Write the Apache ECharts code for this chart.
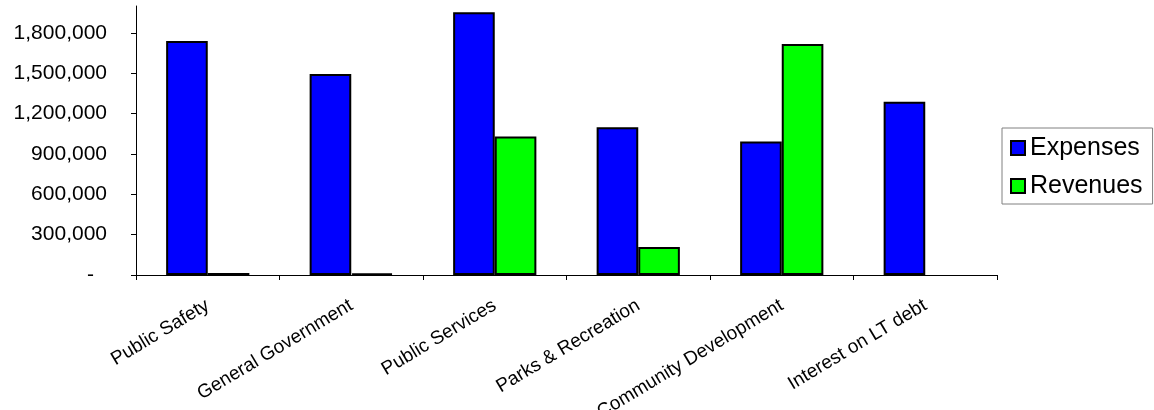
<!DOCTYPE html>
<html>
<head>
<meta charset="utf-8">
<script src="https://cdn.jsdelivr.net/npm/echarts@6/dist/echarts.min.js"></script>
<style>
  html, body { margin: 0; padding: 0; background: #fff; }
  #chart { width: 1154px; height: 410px; }
</style>
</head>
<body>
<div id="chart"></div>
<script>
// Functions: expenses vs. program revenues
const categories = [
  'Public Safety',
  'General Government',
  'Public Services',
  'Parks & Recreation',
  'Community Development',
  'Interest on LT debt'
];
const expenses = [1740000, 1495000, 1954000, 1099000, 992000, 1289000];
const revenues = [15000, 12000, 1029000, 208000, 1718000, null];
const yTicks = [0, 300000, 600000, 900000, 1200000, 1500000, 1800000];
const yMax = 2000000;

const FONT = '"Liberation Sans", Arial, sans-serif';

function fmtAccounting(v) {
  if (v === 0) return '{dash|-}';
  return v.toLocaleString('en-US');
}

const chart = echarts.init(document.getElementById('chart'), null, { renderer: 'canvas' });

const barStyle = (color) => ({
  color: color,
  borderColor: '#000',
  borderWidth: 2
});

chart.setOption({
  animation: false,
  backgroundColor: '#fff',
  grid: {
    left: 136, right: 157, top: 6, bottom: 135,
    containLabel: false,
    outerBoundsMode: 'none'
  },
  legend: {
    orient: 'vertical',
    left: 1002,
    top: 128,
    padding: [7, 10, 5, 8],
    itemGap: 12,
    itemWidth: 14,
    itemHeight: 14,
    icon: 'rect',
    borderColor: '#808080',
    borderWidth: 1,
    textStyle: { fontFamily: FONT, fontSize: 25, color: '#000', lineHeight: 26 },
    data: ['Expenses', 'Revenues']
  },
  xAxis: {
    type: 'category',
    data: categories,
    boundaryGap: true,
    axisLine: { lineStyle: { color: '#000', width: 1 } },
    axisTick: { show: true, length: 5, lineStyle: { color: '#000' } },
    axisLabel: {
      rotate: 31,
      margin: 29,
      interval: 0,
      fontFamily: FONT,
      fontSize: 19,
      color: '#000'
    },
    splitLine: { show: false }
  },
  yAxis: {
    type: 'value',
    min: 0,
    max: yMax,
    axisLine: { show: true, lineStyle: { color: '#000', width: 1 } },
    axisTick: { show: true, length: 5, lineStyle: { color: '#000' }, customValues: yTicks },
    axisLabel: {
      customValues: yTicks,
      margin: 29,
      fontFamily: FONT,
      fontSize: 21,
      color: '#000',
      formatter: fmtAccounting,
      rich: { dash: { fontFamily: FONT, fontSize: 21, color: '#000', padding: [0, 13, 0, 0] } }
    },
    splitLine: { show: false }
  },
  series: [
    {
      name: 'Expenses',
      type: 'bar',
      data: expenses,
      barGap: '0%',
      barCategoryGap: '42%',
      itemStyle: barStyle('#0000ff')
    },
    {
      name: 'Revenues',
      type: 'bar',
      data: revenues,
      barGap: '0%',
      barCategoryGap: '42%',
      itemStyle: barStyle('#00ff00')
    }
  ]
});
</script>
</body>
</html>
